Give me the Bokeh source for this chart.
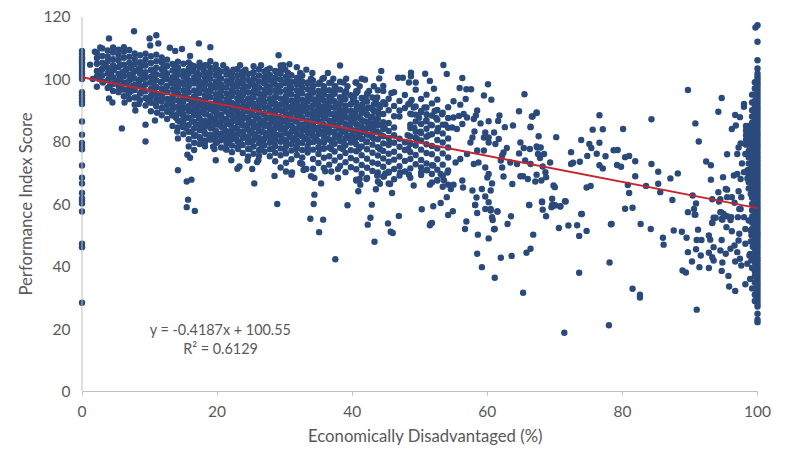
from bokeh.plotting import figure
from bokeh.embed import file_html
from bokeh.resources import INLINE
from bokeh.core.properties import value
from bokeh.models import FixedTicker, Span

# Values (x = Economically Disadvantaged %, y = Performance Index Score)
zero_y = [109,108,107,106.3,105.4,104.5,103.5,102.6,101.7,100.8,100,95.8,94.8,93.8,92.9,92,86.4,82.2,79.5,78.4,77.5,72.3,68.4,66.6,63.5,61.8,61,60.2,57.6,47.3,46.2,28.4]

hundred_y = [117.2,111.9,106,103.4,101.8,100.8,99.9,99,98,97,96,95,94,93,92,91,90,89,88,87,86,85,84,83,82,81,80,79,78,77,76,75,74,73,72,71,70,69,68,67,66,65,64,63,62,61,60,59,58,57,56,55,54,53,52,51,50,49,48,47,46,45,44,43,42,41,40,39,38,37,36,35,34,33,32,31,30,29,28,27.2,24.9,23,22.2]

wall_x = [99.7,99.6,99.6,99.6,99.6,99.6,99.6,99.6,99.6,99.6,99.6,99.6,99.6,99.6,99.6,99.6,99.6,99.6,99.6,99.6,99.6,99.6,99.6,99.6,99.6,99.6,99.6,99.6,99.6,99.6,99.6,99.6,99.6,99.6,99.6,99.6,99.6,99.6,99.6,99.6,99.6,99.6,99.6,99.6,99.6]
wall_y = [116.5,99,97,95,93,91,89,87,85,83.5,82,80.5,79,77.5,76,74.5,73,71.5,70,68.5,67,65.5,64,62.5,61,59.5,58,56.5,55,53.5,52,50.5,49,47.5,46,44.5,43,41.5,40,38.5,37,35,33,31,29]

near_wall_x = [99.2,99.2,99.2,99.2,99.2,99.2,99.2,99.2,99.2,99.2,99.2,99.2,99.2,99.2,99.2,99.2,99.2,99.2,99.2,99.2,99.2,99.2,98.7,98.7,98.7,98.7,98.7,98.7,98.7,98.7,98.7,98.7,98.7,98.3,98.3,98.3,98.3,98.3,99.1,99.0,99.3,98.9,99.1,99.2,98.9,99.2]
near_wall_y = [95,92.5,90,88,86,84,82,80,78,76,74,72,70,68,66,64,62,60,58,56,54,52,85,83,81,79,77,75,73,71,69,67,65,85,83.5,82,80.5,79,50,48,46.3,44,42,39.5,36,33]

cloud_x = [2.2,3.0,3.8,4.6,5.4,6.2,7.0,7.8,8.6,9.4,10.2,11.0,11.8,12.6,13.4,14.2,15.0,15.8,16.6,17.4,18.2,19.0,19.8,20.6,21.4,22.2,23.0,23.8,24.6,25.4,26.2,27.0,27.8,28.6,29.4,30.2,31.0,31.8,32.6,33.4,34.2,35.0,35.8,36.6,37.4,38.2,39.0,39.8,40.6,41.4,42.2,43.0,43.8,44.6,45.4,46.2,47.0,47.8,48.6,49.4,50.2,51.0,51.8,52.6,53.4,54.2]
cloud_y = [
[97.5,100.8,102.6,104.9,106.7,108.4],
[99.2,101.1,103.3,105.2,107.4,109.8],
[97.1,99.6,101.8,103.5,105.7,107.2,109.1],
[96.2,98.4,100.5,102.7,104.4,106.3,108.5,110.1],
[95.8,97.9,99.7,101.6,103.8,105.9,107.7,109.4],
[94.5,96.6,98.7,100.9,102.4,104.6,106.8,108.7,110.2],
[93.6,95.7,97.2,99.5,101.3,103.4,105.2,107.1,109.3],
[91.8,94.1,96.5,98.1,100.2,102.6,104.7,106.4,108.2],
[93.2,95.4,97.6,99.8,101.7,103.5,105.4,107.6],
[91.5,93.9,96.1,98.3,100.4,102.2,104.3,106.2,108.1],
[89.7,92.4,94.6,96.8,98.9,100.7,102.9,105.1,107.3],
[91.3,93.5,95.2,97.4,99.6,101.5,103.6,105.7,107.8],
[88.4,90.6,92.8,94.9,96.9,99.1,101.2,103.1,105.3,106.9],
[87.2,89.5,91.7,93.6,95.8,97.7,99.9,101.8,104.2,106.2],
[88.3,90.4,92.3,94.4,96.6,98.5,100.6,102.7,104.8],
[84.5,86.7,88.9,91.1,93.2,95.3,97.3,99.3,101.4,103.6,105.5],
[82.3,84.6,86.4,88.2,90.5,92.7,94.5,96.4,98.4,100.8,102.5,104.9],
[78.4,80.7,83.1,85.3,87.6,89.7,91.4,93.6,95.7,97.8,99.5,101.7,103.4,105.3],
[77.3,79.6,81.8,84.2,86.3,88.5,90.2,92.5,94.4,96.3,98.6,100.4,102.3,104.1],
[79.2,81.4,83.6,85.5,87.4,89.3,91.6,93.3,95.5,97.4,99.2,101.3,103.7,105.2],
[78.5,80.3,82.5,84.8,86.6,88.7,90.7,92.6,94.7,96.6,98.3,100.5,102.2,104.4],
[80.6,82.2,84.3,86.2,88.1,90.3,92.1,94.2,96.2,98.1,100.1,101.9,103.6,105.7],
[79.5,81.7,83.4,85.4,87.5,89.4,91.2,93.4,95.1,97.2,99.1,101.1,102.9,104.6],
[78.1,80.4,82.6,84.7,86.5,88.6,90.6,92.4,94.3,96.5,98.2,100.2,102.4],
[77.4,79.3,81.5,83.3,85.6,87.3,89.5,91.5,93.5,95.4,97.3,99.3,101.4,103.1],
[76.6,78.7,80.8,82.7,84.5,86.4,88.5,90.4,92.3,94.6,96.4,98.4,100.3,102.1],
[78.2,80.1,82.2,84.1,86.1,87.9,89.8,91.9,93.8,95.6,97.5,99.4,101.2,103.2],
[76.3,78.9,81.1,83.2,85.2,87.2,89.1,91.1,92.9,94.8,96.7,98.5,100.6,102.3],
[75.2,77.6,79.7,81.6,83.8,85.7,87.7,89.6,91.6,93.7,95.7,97.6,99.7,101.6],
[76.1,78.4,80.5,82.4,84.4,86.3,88.4,90.3,92.2,94.2,96.2,98.1,100.1,102.2,104.1],
[75.4,77.2,79.4,81.3,83.3,85.3,87.2,89.2,91.3,93.2,95.3,97.2,99.2,101.1,103.1],
[76.7,78.8,80.9,82.8,84.9,86.8,88.8,90.8,92.7,94.7,96.6,98.7,100.5,102.4],
[75.3,77.5,79.6,81.7,83.6,85.6,87.6,89.7,91.7,93.6,95.6,97.4,99.5,101.3,103.4],
[73.7,76.4,78.6,80.6,82.3,84.3,86.2,88.2,90.2,92.2,94.2,96.3,98.2,100.4,102.6],
[75.6,77.8,79.9,81.9,83.9,85.8,87.8,89.9,91.8,93.8,95.9,97.9,99.8,101.7],
[70.4,73.2,76.2,78.5,80.4,82.6,84.6,86.7,88.6,90.6,92.6,94.6,96.5,98.6,100.7],
[74.3,77.1,79.2,81.2,83.1,85.1,87.1,89.1,91.2,93.1,95.1,97.1,99.1,101.2],
[75.7,78.3,80.3,82.2,84.2,86.4,88.3,90.4,92.4,94.4,96.4,98.3,100.3],
[72.8,74.9,77.3,79.5,81.6,83.5,85.4,87.4,89.5,91.4,93.3,95.4,97.3,99.2,101.1],
[76.5,78.6,80.7,82.7,84.7,86.6,88.6,90.7,92.7,94.5,96.7,98.6],
[71.3,74.4,77.4,79.8,81.8,83.7,85.7,87.5,89.3,91.6,93.5,95.6,97.7,99.5],
[73.1,76,78.2,80.1,82.4,84.4,86.5,88.4,90.3,92.3,94.3,96.2,98.4],
[71.5,74.8,77.7,79.6,81.5,83.4,85.3,87.3,89.4,91.3,93.2,95.1,97,100.3],
[72.6,75.3,78.1,80.6,82.8,84.8,86.7,88.9,90.8,92.6,94.4,96.4,98.7],
[73.9,76.8,79.3,81.2,83.2,85.2,87.1,89,91,92.9,95.3,97.5],
[72.2,75.1,78,80.2,82.1,84.1,86.1,88.2,90.1,92.1,94.2,96.6,99.1],
[70.2,73.4,76.3,78.8,81,83.3,85.6,87.7,89.6,91.5,93.6,95.5],
[71.8,74.7,77.2,79.7,81.9,83.9,85.9,87.9,89.8,91.9,94.8],
[67.8,71.1,74,76.9,79.1,81.3,83.6,85.5,87.6,90.2,92.4,96.1,98.9],
[69.7,72.5,75.6,78.4,80.8,82.9,84.9,86.8,89.1,91.1,93.9],
[68.3,71.6,74.5,77.5,80,82.2,84.2,86.3,88.5,90.6,92.8,95.2],
[70.6,73.3,76.4,79,81.4,83.5,85.8,88,90.4,94.1],
[67.2,70.1,72.9,75.5,78.2,80.7,83,85.1,87.3,89.7,91.8,96.4],
[68.8,71.9,74.6,77,79.4,81.7,84,86.2,88.8,92.6,97.8],
[66.6,70.3,73.5,76.1,78.9,81.1,83.4,85.9,90,93.7],
[67.9,71.2,74.2,76.7,79.6,82,84.5,88.1,91.4,95.8],
[69.1,72.1,75.2,78.3,80.9,88,89.9,93],
[70.4,73.8,77.3,79.8,90.7,94.9],
[68.4,71.4,74.4,76.6,79.2,81.6,84.3,88.9,92.5],
[72.7,75.7,78.7,81.2,83.1,86.4,88.6,91.2,96.6],
[69.3,71.7,74.1,77.4,80.3,82.7,85.6,89.4,93.6],
[70.8,73,76.3,79.1,81.5,84.1,86.9,90.9,95],
[66.9,69.6,72.4,75.9,78.6,82.3,85.2,88.3,92.2],
[67.7,71,74.3,77.8,80.5,83.3,87,90.1,93.4],
[65.5,69,72.6,76.2,79.7,82.6,85.4,89.2],
[66.2,70.7,74.9,78.1,81,84.4,87.5,91],
]

fill_y = [104.4,103,101.9,100.1,98.9,97.7,96.2,95.5,94.1,93.3,91.9,90.9,89.8,88.7,87.6,86.5,85.4,84.3,83.1,82,80.9,79.8,77.6]
fill_x = [
[3.5,5.6,7.4,9.2,12.1,13.7,16.2,18.6,20.9,23.4,26.5,29.8],
[2.9,4.7,6.5,8.3,10.4,12.2,14.1,15.9,18,20.1,22.4,24.2,27.4,30.1,33.2],
[2.6,4.3,5.9,7.6,9,10.6,12.2,13.9,15.4,17.1,18.7,20.3,22,23.7,25.3,27.2,28.9,30.5,32.3,34.1,36.4],
[2.5,4,5.7,7.4,9,10.6,12.3,13.9,15.5,17.2,18.8,20.4,22.1,23.8,25.5,27.1,28.7,30.4,32.2,33.9,35.6,37.2,39.1,41.4],
[3.1,4.9,6.6,8.4,10.1,11.7,13.2,14.8,16.5,18.2,19.9,21.6,23.2,25,26.8,28.3,30.1,31.7,33.4,35.2,36.9,38.7,40.5],
[4.1,5.8,7.4,9.1,10.8,12.5,14.1,15.7,17.4,19.1,20.7,22.4,24.1,25.7,27.4,29.1,30.8,32.5,34.2,35.8,37.5,39.3,41.1,43.2],
[5.4,7.3,9,10.7,12.3,14,15.6,17.3,19,20.6,22.3,24,25.6,27.3,29,30.7,32.4,34.1,35.8,37.4,39.1,40.8,42.5,44.6],
[6.9,8.7,10.4,12,13.7,15.4,17.1,18.7,20.4,22.1,23.7,25.4,27.1,28.8,30.4,32.1,33.8,35.5,37.2,38.9,40.6,42.3,45.8],
[8.2,10.1,11.8,13.4,15.1,16.8,18.5,20.1,21.8,23.5,25.2,26.8,28.5,30.2,31.9,33.6,35.2,36.9,38.6,40.3,42,43.7],
[9.8,11.5,13.2,14.9,16.6,18.2,19.9,21.6,23.3,24.9,26.6,28.3,30,31.7,33.4,35,36.7,38.4,40.1,41.8,43.5,48.8],
[10.9,12.8,14.5,16.2,17.9,19.6,21.2,22.9,24.6,26.3,28,29.6,31.3,33,34.7,36.4,38.1,39.8,41.5,43.2,44.9,48.3],
[11.9,13.6,15.3,17,18.7,20.4,22.1,23.8,25.5,27.1,28.8,30.5,32.2,33.9,35.6,37.3,39,40.7,42.4,44.1,49.1,50.7],
[12.7,14.4,16.1,17.8,19.5,21.2,22.9,24.6,26.2,27.9,29.6,31.3,33,34.7,36.4,38.1,39.8,41.5,43.2,50.2,52.2],
[13.3,15,16.7,18.4,20.1,21.8,23.5,25.2,26.9,28.6,30.3,32,33.7,35.4,37.1,38.8,40.5,42.2,43.9,48.8,51,53.3],
[13.9,15.6,17.3,19,20.7,22.4,24.1,25.8,27.5,29.2,30.9,32.6,34.3,36,37.7,39.4,41.1,42.8,49.9,52.4],
[14.5,16.3,18,19.7,21.4,23.1,24.8,26.5,28.2,29.9,31.6,33.3,35,36.7,38.4,40.1,41.8,43.5,50.9],
[14.9,16.9,18.6,20.3,22,23.7,25.4,27.1,28.8,30.5,32.2,33.9,35.6,37.3,39,40.7,42.4,44.1,48.6,51.6,53.8],
[15.4,17.6,19.3,21,22.7,24.4,26.1,27.8,29.5,31.2,32.9,34.6,36.3,38,39.7,41.4,43.1,44.8,49.2,52.7],
[16.2,18.1,19.8,21.5,23.2,24.9,26.6,28.3,30,31.7,33.4,35.1,36.8,38.5,40.2,41.9,43.6,50.1],
[16.8,18.8,20.5,22.2,23.9,25.6,27.3,29,30.7,32.4,34.1,35.8,37.5,39.2,40.9,42.6,44.3,48.2,51.3],
[17.5,19.4,21.1,22.8,24.5,26.2,27.9,29.6,31.3,33,34.7,36.4,38.1,39.8,41.5,43.2,49.6],
[18.2,20,21.7,23.4,25.1,26.8,28.5,30.2,31.9,33.6,35.3,37,38.7,40.4,42.1,45.5,47.9],
[19.6,21.3,23.1,24.8,26.5,28.2,30,31.7,33.4,35.2,36.9,38.6,41,44.1,48.3],
]

extra_x = [1.6,1.2,1.9,2.7,4.0,4.0,4.5,5.9,6.3,7.7,7.9,8.4,9.4,9.4,10.0,10.1,10.8,11.0,11.1,11.3,13.0,13.4,13.8,14.1,14.2,14.2,14.8,15.5,15.5,15.6,15.7,16.0,16.0,16.2,16.7,17.3,19.0,19.4,19.8,22.1,23.0,23.3,24.5,25.2,25.5,25.9,26.1,28.9,29.1,29.4,29.4,30.7,31.8,33.8,34.3,34.4,35.1,35.7,37.5,38.2,39.3,41.9,42.3,42.7,42.9,43.3,44.0,44.3,45.3,45.7,46.0,46.8,46.9,47.5,48.4,48.7,48.7,49.4,50.3,50.8,51.5,51.5,51.6,51.8,52.0,52.1,53.1,53.5,54.0,54.0,54.2,54.9]
extra_y = [100,104.6,108.7,110.1,113.0,93.8,92.5,84.2,92.5,115.3,89.9,92,85.4,80,113,110.7,86.7,114,89.2,111.4,110,85,109,83.2,70.8,81,109.6,67.2,59,75.8,61.4,107.4,74.8,67.8,57.8,111.4,110.2,78.3,74,74,71.3,72,73.9,71.2,66.6,73.4,74,60,107.6,104.3,102.9,104.7,103.8,55.3,60,63,51,55,42.3,104.3,59.6,99.8,53.4,55.6,59.8,47.9,100.2,102.6,53.8,51.1,50.7,100.4,56.2,100.4,98.9,102,100.9,98.9,58.3,101.7,99.4,53.2,53.7,53.9,59.3,96.9,60.3,104.5,101.6,62.2,56.5,57.7]

low_x = [28.5,29.4,31.1,31.0,32.3,32.8,33.2,33.9,34.4,35.4,36.0,36.9,37.9,37.9,40.6,41.1,41.2,40.9,42.1,43.7,44.1,43.5,44.9,44.7,45.4,45.6,45.9,47.1,48.4,49.1,50.2,51.1,52.0,51.5,52.6,53.6,53.1,54.1,54.6,55.0]
low_y = [69,71.7,70.1,69.4,73.1,70.9,71.2,68.9,68.3,66.6,70.5,70.4,71.2,68.4,67.5,68,66.2,64.1,68,69.1,66.5,64.7,69.8,68.8,70.1,66.4,63.5,70.1,69.4,65.9,70.1,70.9,72.3,66.2,67.5,67.5,69.6,70.1,64.8,66.2]

mid_x = [54.8,55.0,55.0,55.3,55.5,55.8,55.9,56.0,56.0,56.3,56.3,56.3,56.4,56.5,56.7,56.8,56.9,56.9,57.0,57.0,57.5,57.6,57.8,57.8,58.0,58.0,58.1,58.2,58.2,58.3,58.4,58.5,58.5,58.5,58.5,58.6,58.7,59.0,59.2,59.2,59.5,59.5,59.5,59.7,59.7,59.7,59.7,60.0,60.1,60.2,60.2,60.2,60.2,60.2,60.2,60.5,60.5,60.5,60.6,60.7,60.7,60.8,61.0,61.0,61.1,61.1,61.2,61.5,61.5,61.6,61.7,61.8,62.0,62.0,62.2,62.2,62.4,62.4,62.6,62.9,63.0,63.4,63.5,63.6,63.7,63.8,64.4,64.7,64.7,64.9,64.9,65.3,65.3,65.4,65.5,65.6,65.8,66.0,66.2,66.2,66.3,66.4,66.4,66.4,66.4,66.6,66.7,66.8,67.1,67.3,67.3,67.3,67.3,67.4,67.5,67.6,67.8,67.9,68.0,68.1,68.1,68.2,68.2,68.4,68.6,68.7,68.7,69.3,69.5,69.6,69.6,69.8,70.0,70.0,70.0,70.2,70.6,70.8,70.8,71.4,71.5,71.6]
mid_y = [84.5,92.9,87.7,73.3,84,88.2,97.1,91.8,74.4,85.6,67.5,100.3,65.3,88.8,52,93.6,54.4,96.7,87.7,76,79.7,96.7,81.3,64.3,87.2,72.8,83.2,59.7,59.7,88.3,62.1,57.1,44.1,89.9,77.1,50.2,73.3,85.8,64.8,39.8,94.7,81.3,77.1,82.9,62.4,58.4,71.7,68.5,98.3,81.3,79.7,69.6,60.6,49,86.5,64.3,57.9,58.4,93.4,66.6,55.8,54.9,82.9,51.9,36.4,52,79.2,57.6,57.6,86.6,80.8,88.3,73.9,42.8,75.5,71.7,76.5,68.8,84.6,77.9,53.6,73.3,56.1,43.4,66.4,85.1,72.8,89.7,76.2,68.9,79.7,68.9,31.6,77.9,95.1,73.9,44.4,68,59.7,59.7,77.6,84.7,72.8,84.6,45.7,88,88,50.2,67.2,89.3,78.4,69.4,89.1,78.1,76,81.7,74.7,78.1,67.5,60.8,60.6,72,58.2,76,70.2,68.6,56.1,73.3,59,61.7,59.7,65.9,65.4,59.5,59.7,81.4,52.3,59.2,59.3,18.8,60.9,60.8]

right_x = [72.0,72.4,72.4,72.7,73.3,73.6,73.6,73.7,73.9,73.9,74.0,74.7,74.7,74.8,75.1,75.3,75.4,75.6,76.2,76.6,76.6,76.6,77.1,77.1,77.5,78.0,78.1,78.3,78.4,78.7,79.2,79.3,79.8,80.1,80.4,80.4,80.8,81.0,81.0,81.5,81.5,81.9,81.9,82.6,82.6,82.7,83.5,84.2,84.3,84.3,85.3,85.3,85.6,86.0,86.1,87.1,87.4,87.6,88.2,88.8,88.9,89.4,89.5,89.7,89.7,89.7,90.3,90.4,90.6,90.7,90.8,90.8,90.9,90.9,91.0,91.0,91.2,91.3,91.4,91.6,91.7,92.4,92.8,92.8,92.8,93.0,93.1,93.1,93.3,93.3,93.3,93.3,93.5,93.5,93.5,93.8,94.2,94.2,94.3,94.5,94.5,94.5,94.6,94.7,94.7,94.7,94.7,94.8,94.8,94.9,95.0,95.3,95.3,95.4,95.5,95.5,95.5,95.5,95.7,95.8,96.0,96.0,96.1,96.2,96.2,96.2,96.5,96.6,96.6,96.7,96.7,96.7,96.8,97.0,97.0,97.0,97.1,97.2,97.2,97.2,97.3,97.3,97.4,97.4,97.5,97.5,97.5,97.6,97.6,97.7,98.0,98.0,98.0,98.0,98.2,98.2,98.2,98.2,98.4,98.5,98.5,98.5,98.7,98.7,98.8,99.0,99.0]
right_y = [53.1,76.6,72.8,73.2,53.2,49.8,38,73.5,80.5,56.8,56.8,65.3,51.4,75.4,79.2,65.8,77.9,83.8,76.1,88.4,79.6,72.4,83.9,71.4,75.3,21.2,41.3,53.5,53.6,77.2,72.5,77.3,71.9,84,58.5,75,66.1,75.4,63.5,58.8,32.9,73.7,68.9,31,30.1,53.6,65.8,52,87.1,72.8,70.3,66.5,63.8,49.2,47,68.2,61.3,51.5,69.8,51.1,38.7,38.1,49.2,96.5,57.4,44.6,41.6,62.7,58.4,56.6,85.8,56.6,45.5,60.2,26.2,48.5,51.8,80,39.8,43.5,48.5,73.6,49.9,44.4,39.5,48.6,72.4,67.8,61.5,54,53.9,43,55.6,46.2,41.9,55.6,89.5,63.8,60.8,57.4,61.5,45.1,57.4,93.9,55.2,48.5,38.6,41.3,55,68.6,56.8,64.8,44.1,52.6,75.9,64.6,62.2,56.1,37,33.6,54.9,45.7,55.8,84,62.2,51.3,69.1,60.4,46.7,41.6,32.2,88.5,85.1,44.6,76,69.6,55.8,48.3,78.1,64.1,50.5,58.4,87.8,42.5,68,58.4,79.4,62.2,40.3,73,70.2,55.8,92,91.1,76,47.3,52,34.3,84,70.7,68.2,40.9,79.4,54.7,43.5,63.2,51.5,38.3,36.4,48.3,28.4]

trend_x = [0, 100]
trend_y = [100.55, 58.68]

x_ticks = [0, 20, 40, 60, 80, 100]
y_ticks = [0, 20, 40, 60, 80, 100, 120]

FONT = "Lato"
GREY = "#595959"
DOT = "#2B4A7C"
AXIS = "#BFBFBF"

p = figure(width=792, height=454, output_backend="svg", toolbar_location=None,
           x_range=(-1.26, 102.96), y_range=(0, 120),
           min_border_left=73, min_border_right=15, min_border_top=16, min_border_bottom=63)
p.outline_line_color = None
p.background_fill_color = "white"
p.grid.visible = False

p.add_layout(Span(location=0, dimension="height", line_color=AXIS, line_width=1))

all_x, all_y = [], []
all_x += [0] * len(zero_y); all_y += zero_y
all_x += [100] * len(hundred_y); all_y += hundred_y
all_x += wall_x + near_wall_x; all_y += wall_y + near_wall_y
for cx, ys in zip(cloud_x, cloud_y):
    all_x += [cx] * len(ys); all_y += ys
for fy, xs in zip(fill_y, fill_x):
    all_x += xs; all_y += [fy] * len(xs)
all_x += extra_x + low_x + mid_x + right_x
all_y += extra_y + low_y + mid_y + right_y

p.scatter(all_x, all_y, size=6.4, color=DOT, line_color=None)
p.line(trend_x, trend_y, line_color="#C4252F", line_width=2)

p.text([20.5, 20.5], [19.9, 13.8], text=["y = -0.4187x + 100.55", "R\u00b2 = 0.6129"],
       text_font=value(FONT), text_font_size="14.4px", text_color=GREY,
       text_align="center", text_baseline="middle")

xa = p.xaxis[0]
ya = p.yaxis[0]
xa.ticker = FixedTicker(ticks=x_ticks)
ya.ticker = FixedTicker(ticks=y_ticks)
xa.bounds = (0, 100)
xa.minor_tick_line_color = None
ya.minor_tick_line_color = None
xa.axis_line_color = AXIS
ya.axis_line_color = None
xa.major_tick_line_color = AXIS
ya.major_tick_line_color = None
xa.major_tick_in = 0
xa.major_tick_out = 4
ya.major_tick_in = 0
ya.major_tick_out = 0
xa.axis_label = "Economically Disadvantaged (%)"
ya.axis_label = "Performance Index Score"
for a in (xa, ya):
    a.axis_label_text_font = FONT
    a.axis_label_text_font_style = "normal"
    a.axis_label_text_font_size = "16.7px"
    a.axis_label_text_color = GREY
    a.major_label_text_font = FONT
    a.major_label_text_font_size = "15.5px"
    a.major_label_text_color = GREY
xa.major_label_standoff = 10
ya.major_label_standoff = 3
xa.axis_label_standoff = 6
ya.axis_label_standoff = 5

open("out.html", "w").write(file_html(p, INLINE))
